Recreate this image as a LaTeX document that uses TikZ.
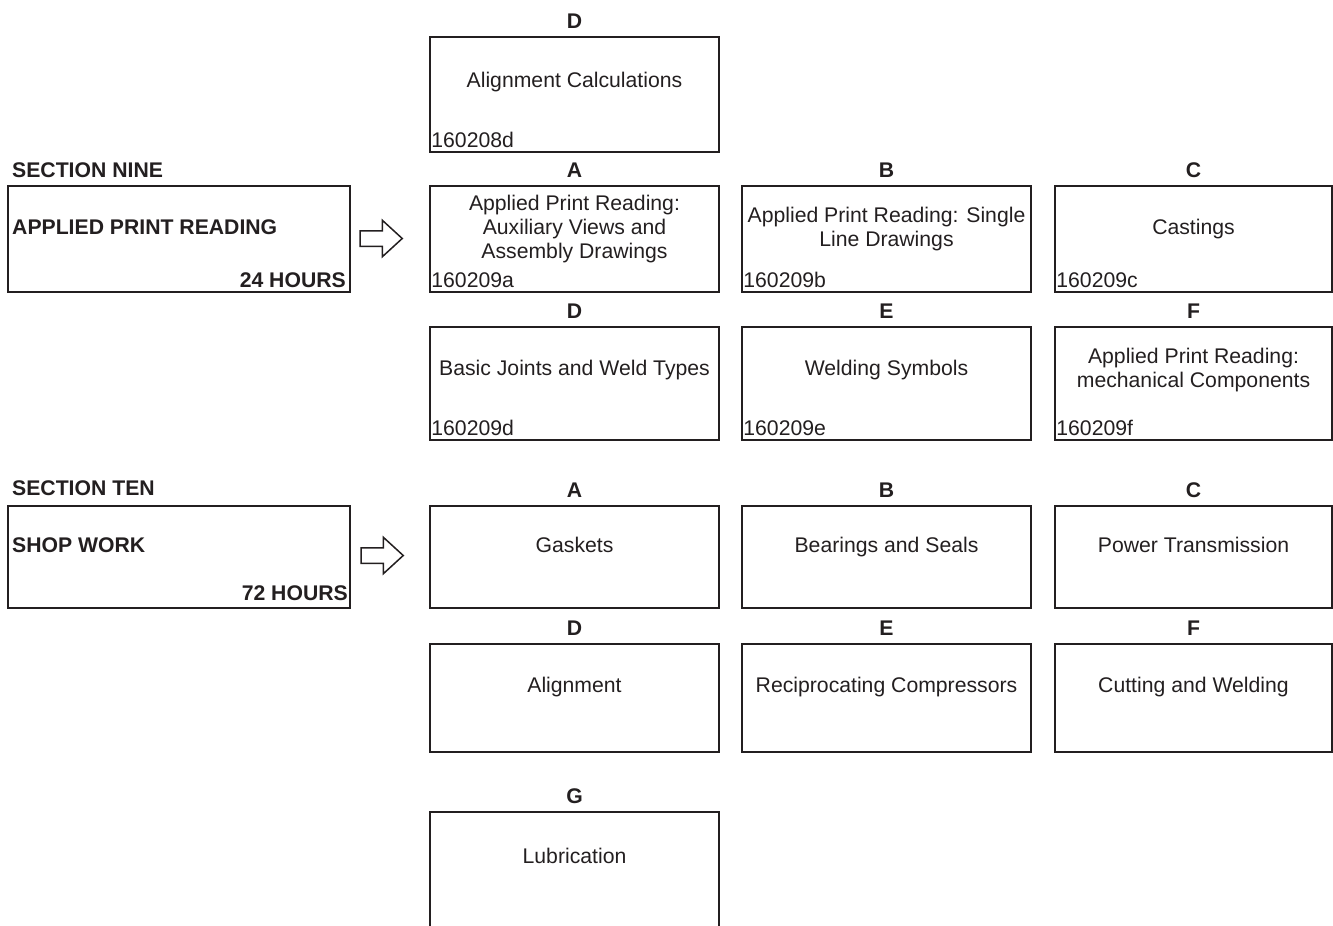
\documentclass[tikz,border=0pt]{standalone}
\usepackage{fontspec}
\setmainfont{Liberation Sans}
\usetikzlibrary{shapes.arrows}
\definecolor{ink}{HTML}{231F20}

\begin{document}
\begin{tikzpicture}[x=1pt, y=-1pt]
	\tikzset{every node/.style={font=\fontsize{21.2}{24}\selectfont, text=ink}}
	\tikzset{unit/.style = {draw=ink, line width=1.6pt, minimum width=289pt, inner sep=0pt,
			label={[label distance=4pt, font=\fontsize{21.2}{24}\selectfont\bfseries, text=ink]above:#1}}}
	\tikzset{section/.style = {draw=ink, line width=1.6pt, minimum width=342pt, inner sep=0pt}}
	\tikzset{topic/.style = {align=center, inner sep=0pt}}
	\tikzset{code/.style = {anchor=base west, inner sep=0pt}}
	\tikzset{head/.style = {anchor=base west, inner sep=0pt, font=\fontsize{21.2}{24}\selectfont\bfseries}}
	\tikzset{pointer/.style = {single arrow, draw=ink, line width=1.5pt, minimum width=35pt,
			minimum height=42pt, single arrow head extend=10.5pt, single arrow tip angle=85,
			inner xsep=0pt, inner ysep=7pt}}
	\useasboundingbox (0,0) rectangle (1333,926);
	% section nine
	\node[head] (s9) at (12,177.5) {SECTION NINE};
	\node[section, minimum height=106pt] (s9box) at (179,239) {};
	\node[head] (s9name) at (12,234.5) {APPLIED PRINT READING};
	\node[head, anchor=base east] (s9hours) at (346,287) {24 HOURS};
	\node[pointer] (s9arrow) at (377,238.5) {};
	% section nine units
	\node[unit=D, minimum height=115pt] (n0d) at (574.5,94.5) {};
	\node[unit=A, minimum height=106pt] (n9a) at (574.5,239) {};
	\node[unit=B, minimum height=106pt] (n9b) at (886.5,239) {};
	\node[unit=C, minimum height=106pt, minimum width=277pt] (n9c) at (1193.5,239) {};
	\node[unit=D, minimum height=113pt] (n9d) at (574.5,383.5) {};
	\node[unit=E, minimum height=113pt] (n9e) at (886.5,383.5) {};
	\node[unit=F, minimum height=113pt, minimum width=277pt] (n9f) at (1193.5,383.5) {};
	% unit titles
	\node[topic] at ([yshift=12pt]n0d.center) {Alignment Calculations};
	\node[topic] at ([yshift=10pt]n9a.center) {Applied Print Reading:\\Auxiliary Views and\\Assembly Drawings};
	\node[topic] at ([yshift=10pt]n9b.center) {Applied Print Reading: Single\\Line Drawings};
	\node[topic] at ([yshift=10pt]n9c.center) {Castings};
	\node[topic] at ([yshift=13pt]n9d.center) {Basic Joints and Weld Types};
	\node[topic] at ([yshift=13pt]n9e.center) {Welding Symbols};
	\node[topic] at ([yshift=13pt]n9f.center) {Applied Print Reading:\\mechanical Components};
	% unit codes
	\node[code] at ([shift={(2pt,5pt)}]n0d.south west) {160208d};
	\node[code] at ([shift={(2pt,5pt)}]n9a.south west) {160209a};
	\node[code] at ([shift={(2pt,5pt)}]n9b.south west) {160209b};
	\node[code] at ([shift={(2pt,5pt)}]n9c.south west) {160209c};
	\node[code] at ([shift={(2pt,5pt)}]n9d.south west) {160209d};
	\node[code] at ([shift={(2pt,5pt)}]n9e.south west) {160209e};
	\node[code] at ([shift={(2pt,5pt)}]n9f.south west) {160209f};
	% section ten
	\node[head] (s10) at (12,495.5) {SECTION TEN};
	\node[section, minimum height=102pt] (s10box) at (179,557) {};
	\node[head] (s10name) at (12,552.5) {SHOP WORK};
	\node[head, anchor=base east] (s10hours) at (348,600.5) {72 HOURS};
	\node[pointer] (s10arrow) at (378,555.5) {};
	% section ten units
	\node[unit=A, minimum height=102pt] (n10a) at (574.5,557) {};
	\node[unit=B, minimum height=102pt] (n10b) at (886.5,557) {};
	\node[unit=C, minimum height=102pt, minimum width=277pt] (n10c) at (1193.5,557) {};
	\node[unit=D, minimum height=108pt] (n10d) at (574.5,698) {};
	\node[unit=E, minimum height=108pt] (n10e) at (886.5,698) {};
	\node[unit=F, minimum height=108pt, minimum width=277pt] (n10f) at (1193.5,698) {};
	\begin{scope}
		\clip (0,0) rectangle (1333,926);
		\node[unit=G, minimum height=130pt] (n10g) at (574.5,877) {};
	\end{scope}
	\node[topic] at ([yshift=12pt]n10a.center) {Gaskets};
	\node[topic] at ([yshift=10pt]n10b.center) {Bearings and Seals};
	\node[topic] at ([yshift=12pt]n10c.center) {Power Transmission};
	\node[topic] at ([yshift=11pt]n10d.center) {Alignment};
	\node[topic] at ([yshift=11pt]n10e.center) {Reciprocating Compressors};
	\node[topic] at ([yshift=11pt]n10f.center) {Cutting and Welding};
	\node[topic] at (574.5,856) {Lubrication};
\end{tikzpicture}
\end{document}
